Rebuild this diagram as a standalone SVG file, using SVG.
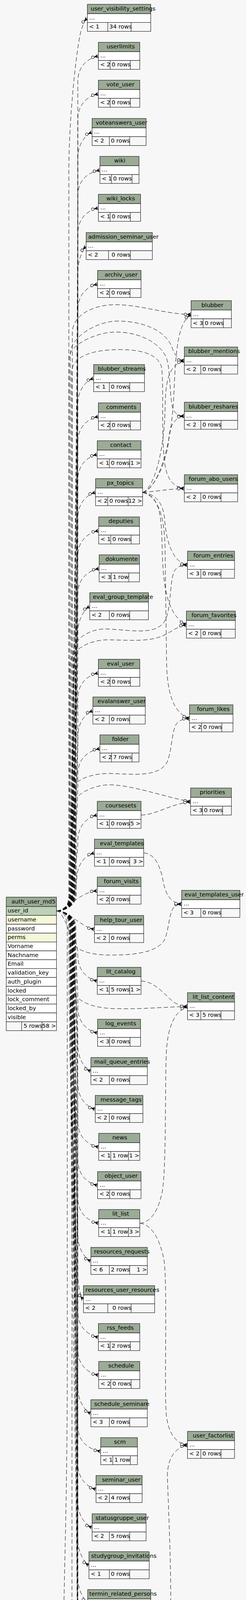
<svg xmlns="http://www.w3.org/2000/svg" width="629" height="5251" viewBox="0 0 629 5251">
<defs>
<style>
text{font-family:"DejaVu Sans",Verdana,sans-serif;font-size:14.67px;fill:#000}
.hd{fill:#9bab96;stroke:#000;stroke-width:1}
.bd{fill:#fff;stroke:#000;stroke-width:1}
.st{fill:#f7f7f7;stroke:#000;stroke-width:1}
.pk{fill:#bed1b8;stroke:#000;stroke-width:1}
.ix{fill:#f4f7da;stroke:#000;stroke-width:1}
.dv{stroke:#000;fill:none;stroke-width:1}
.r{text-anchor:end}
#connectors path{fill:none;stroke:#000;stroke-width:1;stroke-dasharray:11,6}
#connectors .cf{marker-end:url(#cr)}
#connectors .ct{marker-end:url(#tee)}
#connectors .co{marker-end:url(#od)}
</style>
<marker id="cr" markerUnits="userSpaceOnUse" viewBox="-20 -8 22 16" refX="0" refY="0" markerWidth="22" markerHeight="16" orient="auto" overflow="visible">
<circle cx="-14.5" cy="0" r="3.4" fill="#f7f7f7" stroke="#000" stroke-width="1"/>
<path d="M-11 0L0-5.5L-4 0L0 5.5Z" fill="#000"/>
<path d="M-11 0H0" stroke="#000" stroke-width="1" fill="none"/>
</marker>
<marker id="tee" markerUnits="userSpaceOnUse" viewBox="-20 -8 22 16" refX="0" refY="0" markerWidth="22" markerHeight="16" orient="auto" overflow="visible">
<path d="M-6.6 0H0" stroke="#000" stroke-width="1" fill="none"/>
<circle cx="-10" cy="0" r="3.4" fill="#f7f7f7" stroke="#000" stroke-width="1"/>
<path d="M-2.5-5V5" stroke="#000" stroke-width="2" fill="none"/>
</marker>
<marker id="od" markerUnits="userSpaceOnUse" viewBox="-20 -8 22 16" refX="0" refY="0" markerWidth="22" markerHeight="16" orient="auto" overflow="visible">
<path d="M-3 0H0" stroke="#000" stroke-width="1" fill="none"/>
<circle cx="-6.4" cy="0" r="3.4" fill="#f7f7f7" stroke="#000" stroke-width="1"/>
</marker>
</defs>
<rect x="0" y="0" width="629" height="5251" fill="#f7f7f7"/>

<g id="connectors">
<path class="cf" d="M144.4 2332C162 2332 176 2322 176 2290L176 440C176 300 196 120 207 80C211 66 216 53 223.4 46.3"/>
<path class="cf" d="M144.4 2332C162 2332 188 2322 188 2290C188 1249.3 199 1249.3 199 208.5C199 178.5 215 151.5 251.5 143.5"/>
<path class="cf" d="M144.4 2332C162 2332 192 2322 192 2290C192 1297.8 199 1297.8 199 305.5C199 275.5 215 248.5 251.5 240.5"/>
<path class="cf" d="M144.4 2332C162 2332 195 2322 195 2290C195 1346.8 199 1346.8 199 403.5C199 373.5 215 346.5 235.5 338.5"/>
<path class="cf" d="M144.4 2332C162 2332 186 2322 186 2290C186 1395.3 199 1395.3 199 500.5C199 470.5 215 443.5 255.5 435.5"/>
<path class="cf" d="M144.4 2332C162 2332 190 2322 190 2290C190 1443.8 199 1443.8 199 597.5C199 567.5 215 540.5 251.5 532.5"/>
<path class="cf" d="M144.4 2332C162 2332 193 2322 193 2290C193 1492.8 199 1492.8 199 695.5C199 665.5 212.2 638.5 220.2 630.5"/>
<path class="cf" d="M144.4 2332C162 2332 184 2322 184 2290C184 1541.3 199 1541.3 199 792.5C199 762.5 215 735.5 249.5 727.5"/>
<path class="cf" d="M144.4 2332C162 2332 189 2322 189 2290C189 1661.8 199 1661.8 199 1033.5C199 1003.5 215 976.5 239.5 968.5"/>
<path class="cf" d="M144.4 2332C162 2332 182 2322 182 2290C182 1710.8 199 1710.8 199 1131.5C199 1101.5 215 1074.5 251.5 1066.5"/>
<path class="cf" d="M144.4 2332C162 2332 191 2322 191 2290C191 1759.3 199 1759.3 199 1228.5C199 1198.5 215 1171.5 248.7 1163.5"/>
<path class="cf" d="M144.4 2332C162 2332 186 2322 186 2290C186 1807.8 199 1807.8 199 1325.5C199 1295.5 215 1268.5 244.3 1260.5"/>
<path class="cf" d="M144.4 2332C162 2332 180 2322 180 2290C180 1856.8 199 1856.8 199 1423.5C199 1393.5 215 1366.5 252.3 1358.5"/>
<path class="cf" d="M144.4 2332C162 2332 188 2322 188 2290C188 1905.3 199 1905.3 199 1520.5C199 1490.5 215 1463.5 253.5 1455.5"/>
<path class="cf" d="M144.4 2332C162 2332 183 2322 183 2290C183 1953.8 199 1953.8 199 1617.5C199 1587.5 215 1560.5 229.5 1552.5"/>
<path class="cf" d="M144.4 2332C162 2332 190 2322 190 2290C190 2039 199 2039 199 1788C199 1758 215 1731 251.5 1723"/>
<path class="cf" d="M144.4 2332C162 2332 178 2322 178 2290C178 2087.3 199 2087.3 199 1884.5C199 1854.5 215 1827.5 237.5 1819.5"/>
<path class="cf" d="M144.4 2332C162 2332 186 2322 186 2290C186 2135.8 199 2135.8 199 1981.5C199 1951.5 215 1924.5 255.5 1916.5"/>
<path class="cf" d="M144.4 2332C162 2332 181 2322 181 2290C181 2220.8 199 2220.8 199 2151.5C199 2121.5 215 2094.5 248.7 2086.5"/>
<path class="cf" d="M144.4 2332C165 2332 193 2300 196 2250C198 2215 213 2192 241.5 2183.5"/>
<path class="cf" d="M144.4 2332C175 2328 200 2285 248.7 2280.5"/>
<path class="cf" d="M144.4 2332C180 2335 205 2372 241.5 2379"/>
<path class="cf" d="M144.4 2332C162 2332 188 2342 188 2374C188 2410.3 199 2410.3 199 2446.5C199 2476.5 215 2503.5 248.7 2511.5"/>
<path class="cf" d="M144.4 2332C162 2332 192 2342 192 2374C192 2476.8 199 2476.8 199 2579.5C199 2609.5 215 2636.5 249.5 2644.5"/>
<path class="cf" d="M144.4 2332C162 2332 185 2342 185 2374C185 2525.8 199 2525.8 199 2677.5C199 2707.5 215 2734.5 232.3 2742.5"/>
<path class="cf" d="M144.4 2332C162 2332 190 2342 190 2374C190 2574.3 199 2574.3 199 2774.5C199 2804.5 215 2831.5 243.5 2839.5"/>
<path class="cf" d="M144.4 2332C162 2332 180 2342 180 2374C180 2622.8 199 2622.8 199 2871.5C199 2901.5 215 2928.5 252.3 2936.5"/>
<path class="cf" d="M144.4 2332C162 2332 194 2342 194 2374C194 2671.8 199 2671.8 199 2969.5C199 2999.5 215 3026.5 249.5 3034.5"/>
<path class="cf" d="M144.4 2332C162 2332 186 2342 186 2374C186 2720.3 199 2720.3 199 3066.5C199 3096.5 215 3123.5 252.3 3131.5"/>
<path class="cf" d="M144.4 2332C162 2332 178 2342 178 2374C178 2768.8 199 2768.8 199 3163.5C199 3193.5 215 3220.5 232.3 3228.5"/>
<path class="cf" d="M144.4 2332C162 2332 190 2342 190 2374C190 2817.8 199 2817.8 199 3261.5C199 3291.5 205.4 3318.5 213.4 3326.5"/>
<path class="cf" d="M144.4 2332C162 2332 183 2342 183 2374C183 2866.3 199 2866.3 199 3358.5C199 3388.5 215 3415.5 251.5 3423.5"/>
<path class="cf" d="M144.4 2332C162 2332 188 2342 188 2374C188 2914.8 199 2914.8 199 3455.5C199 3485.5 215 3512.5 252.3 3520.5"/>
<path class="cf" d="M144.4 2332C162 2332 176 2342 176 2374C176 2963.8 199 2963.8 199 3553.5C199 3583.5 215 3610.5 232.3 3618.5"/>
<path class="cf" d="M144.4 2332C162 2332 192 2342 192 2374C192 3012.3 199 3012.3 199 3650.5C199 3680.5 215 3707.5 257.5 3715.5"/>
<path class="cf" d="M144.4 2332C162 2332 181 2342 181 2374C181 3060.8 199 3060.8 199 3747.5C199 3777.5 215 3804.5 245.5 3812.5"/>
<path class="cf" d="M144.4 2332C162 2332 186 2342 186 2374C186 3109.8 199 3109.8 199 3845.5C199 3875.5 215 3902.5 235.5 3910.5"/>
<path class="cf" d="M144.4 2332C162 2332 179 2342 179 2374C179 3158.3 199 3158.3 199 3942.5C199 3972.5 215 3999.5 227.4 4007.5"/>
<path class="cf" d="M144.4 2332C162 2332 190 2342 190 2374C190 3206.8 199 3206.8 199 4039.5C199 4069.5 215 4096.5 224.2 4104.5"/>
<path class="cf" d="M144.4 2332C162 2332 184 2342 184 2374C184 3255.8 199 3255.8 199 4137.5C199 4167.5 215 4194.5 249.5 4202.5"/>
<path class="ct" d="M144.4 2332C162 2332 188 2342 188 2374C188 3322.3 199 3322.3 199 4270.5C199 4300.5 215 4327.5 252.3 4335.5"/>
<path class="cf" d="M144.4 2332C162 2332 182 2342 182 2374C182 3370.8 199 3370.8 199 4367.5C199 4397.5 215 4424.5 252.3 4432.5"/>
<path class="cf" d="M144.4 2332C162 2332 190 2342 190 2374C190 3419.8 199 3419.8 199 4465.5C199 4495.5 215 4522.5 236.3 4530.5"/>
<path class="cf" d="M144.4 2332C162 2332 185 2342 185 2374C185 3468.3 199 3468.3 199 4562.5C199 4592.5 215 4619.5 249.5 4627.5"/>
<path class="cf" d="M144.4 2332C162 2332 180 2342 180 2374C180 3516.8 199 3516.8 199 4659.5C199 4689.5 215 4716.5 235.5 4724.5"/>
<path class="ct" d="M144.4 2332C162 2332 188 2342 188 2374C188 3565.8 199 3565.8 199 4757.5C199 4787.5 215 4814.5 245.5 4822.5"/>
<path class="cf" d="M144.4 2332C162 2332 172 2345 172 2380L172 3500C172 3900 160 4100 160 4400L161 4800C163 4920 185 5000 195 5035C200 5048 204 5056 209.4 5058.5"/>
<path class="cf" d="M144.4 2332C162 2332 185 2322 185 2290L185 850C187 805 240 780 295 780C360 780 420 804 488.6 805"/>
<path class="cf" d="M144.4 2332C162 2332 180 2322 180 2290L180 900C185 860 250 822 300 822C380 822 428 855 440 890C448 912 458 922 471.3 923.5"/>
<path class="cf" d="M144.4 2332C162 2332 177 2322 177 2290L177 915C180 880 250 850 295 850C360 850 410 880 425 915C438 950 432 1030 445 1052C452 1062 460 1065 471.3 1065"/>
<path class="cf" d="M144.4 2332C162 2332 183 2322 183 2290L183 950C188 910 240 895 305 895C370 895 405 910 413 940C420 990 410 1150 425 1205C433 1235 450 1248 471.3 1250.5"/>
<path class="cf" d="M144.4 2332C162 2332 187 2322 187 2290L187 1670C190 1630 235 1610 270 1610C330 1612 395 1628 420 1592C440 1560 432 1485 447 1460C455 1449 465 1447 479.4 1446.3"/>
<path class="cf" d="M144.4 2332C162 2332 179 2322 179 2290L179 1700C183 1660 230 1640 270 1638C330 1638 380 1645 420 1626C440 1616 455 1603 476.6 1599.5"/>
<path class="cf" d="M144.4 2332C162 2332 184 2322 184 2290L184 2025C188 1995 235 1980 280 1980C340 1982 400 1990 425 1955C440 1930 438 1870 452 1852C460 1843 470 1840 484.6 1839.5"/>
<path class="cf" d="M144.4 2332C162 2332 182 2322 182 2290L182 2070C186 2035 235 2010 280 2009C340 2010 420 2040 487.4 2052.5"/>
<path class="cf" d="M144.4 2332C162 2333 178 2390 190 2418C200 2436 240 2445 280 2445C340 2445 395 2440 418 2410C432 2390 430 2340 445 2322C452 2316 458 2315 464.5 2314.5"/>
<path class="cf" d="M144.4 2332C162 2332 186 2342 186 2374L186 2530C190 2560 230 2580 290 2582C360 2584 420 2578 479.4 2576.5"/>
<path class="cf" d="M144.4 2332C162 2332 184 2342 184 2374L184 4215C188 4255 240 4275 300 4275C370 4275 415 4255 430 4210C445 4150 430 3850 428 3780C428 3730 450 3705 479.4 3699.5"/>
<path class="cf" d="M364.6 1260.5C400 1255 440 1150 445 1000C450 880 458 825 488.6 805"/>
<path class="cf" d="M364.6 1260.5C395 1250 420 1150 422 1050C423 970 432 935 471.3 923.5"/>
<path class="cf" d="M364.6 1260.5C395 1252 428 1180 432 1120C435 1085 450 1068 471.3 1065"/>
<path class="cf" d="M364.6 1260.5C400 1258 430 1252 471.3 1250.5"/>
<path class="cf" d="M364.6 1260.5C400 1265 418 1290 421 1330C424 1380 440 1440 479.4 1446.3"/>
<path class="cf" d="M364.6 1260.5C400 1268 412 1300 414 1380C416 1480 420 1570 476.6 1599.5"/>
<path class="cf" d="M364.6 1260.5C400 1270 420 1310 422 1400L426 1700C428 1780 445 1825 484.6 1839.5"/>
<path class="cf" d="M360.6 2086.5C400 2086 430 2060 487.4 2052.5"/>
<path class="cf" d="M367.4 2183.5C395 2185 410 2215 418 2260C425 2295 440 2312 464.5 2314.5"/>
<path class="cf" d="M360.6 2511.5C395 2512 420 2545 440 2562C452 2572 465 2576 479.4 2576.5"/>
<path class="cf" d="M357.4 3131.5C385 3130 405 3100 415 3050C425 2990 422 2800 425 2700C428 2630 445 2590 479.4 2576.5"/>
<path class="cf" d="M357.4 3131.5C385 3133 410 3170 420 3230C428 3300 420 3550 425 3620C430 3670 450 3695 479.4 3699.5"/>
<path class="co" d="M144.4 5040.8C160 5040 175 5030 176 5000C177 4960 185 4930 209.4 4922.2"/>
<path class="ct" d="M144.4 5040.8C165 5040 180 5055 188 5085C196 5120 210 5157 243.5 5159"/>
</g>

<g id="user_visibility_settings"><rect class="hd" x="223.4" y="11" width="162.1" height="24"/><text x="231.9" y="27">user_visibility_settings</text><rect class="bd" x="223.4" y="35" width="162.1" height="22.5"/><text x="228.4" y="50">...</text><rect class="st" x="223.4" y="57.5" width="162.1" height="22.8"/><path class="dv" d="M275.6 57.5V80.3M335.3 57.5V80.3"/><text x="227.8" y="73">&lt; 1</text><text x="279.6" y="73">34 rows</text></g>
<g id="userlimits"><rect class="hd" x="251.5" y="108.3" width="105.9" height="24"/><text x="272.8" y="124.3">userlimits</text><rect class="bd" x="251.5" y="132.3" width="105.9" height="22.5"/><text x="256.5" y="147.3">...</text><rect class="st" x="251.5" y="154.8" width="105.9" height="22.8"/><path class="dv" d="M281.6 154.8V177.6M333.3 154.8V177.6"/><text x="255.9" y="170.3">&lt; 2</text><text x="285.6" y="170.3">0 rows</text></g>
<g id="vote_user"><rect class="hd" x="251.5" y="205.3" width="105.9" height="24"/><text x="272" y="221.3">vote_user</text><rect class="bd" x="251.5" y="229.3" width="105.9" height="22.5"/><text x="256.5" y="244.3">...</text><rect class="st" x="251.5" y="251.8" width="105.9" height="22.8"/><path class="dv" d="M281.6 251.8V274.6M333.3 251.8V274.6"/><text x="255.9" y="267.3">&lt; 2</text><text x="285.6" y="267.3">0 rows</text></g>
<g id="voteanswers_user"><rect class="hd" x="235.5" y="303.3" width="138" height="24"/><text x="244.7" y="319.3">voteanswers_user</text><rect class="bd" x="235.5" y="327.3" width="138" height="22.5"/><text x="240.5" y="342.3">...</text><rect class="st" x="235.5" y="349.8" width="138" height="22.8"/><path class="dv" d="M279.6 349.8V372.6M331.7 349.8V372.6"/><text x="239.9" y="365.3">&lt; 2</text><text x="283.6" y="365.3">0 rows</text></g>
<g id="wiki"><rect class="hd" x="255.5" y="400.3" width="99.9" height="24"/><text x="292" y="416.3">wiki</text><rect class="bd" x="255.5" y="424.3" width="99.9" height="22.5"/><text x="260.5" y="439.3">...</text><rect class="st" x="255.5" y="446.8" width="99.9" height="22.8"/><path class="dv" d="M285.2 446.8V469.6M337.7 446.8V469.6"/><text x="259.9" y="462.3">&lt; 1</text><text x="289.2" y="462.3">0 rows</text></g>
<g id="wiki_locks"><rect class="hd" x="251.5" y="497.3" width="107.9" height="24"/><text x="272" y="513.3">wiki_locks</text><rect class="bd" x="251.5" y="521.3" width="107.9" height="22.5"/><text x="256.5" y="536.3">...</text><rect class="st" x="251.5" y="543.8" width="107.9" height="22.8"/><path class="dv" d="M281.6 543.8V566.6M333.3 543.8V566.6"/><text x="255.9" y="559.3">&lt; 1</text><text x="285.6" y="559.3">0 rows</text></g>
<g id="admission_seminar_user"><rect class="hd" x="220.2" y="595.3" width="169.3" height="24"/><text x="225.4" y="611.3">admission_seminar_user</text><rect class="bd" x="220.2" y="619.3" width="169.3" height="22.5"/><text x="225.2" y="634.3">...</text><rect class="st" x="220.2" y="641.8" width="169.3" height="22.8"/><path class="dv" d="M277.6 641.8V664.6M333.3 641.8V664.6"/><text x="224.6" y="657.3">&lt; 2</text><text x="285.2" y="657.3">0 rows</text></g>
<g id="archiv_user"><rect class="hd" x="249.5" y="692.3" width="111.1" height="24"/><text x="267.6" y="708.3">archiv_user</text><rect class="bd" x="249.5" y="716.3" width="111.1" height="22.5"/><text x="254.5" y="731.3">...</text><rect class="st" x="249.5" y="738.8" width="111.1" height="22.8"/><path class="dv" d="M280.4 738.8V761.6M332.5 738.8V761.6"/><text x="253.9" y="754.3">&lt; 2</text><text x="284.4" y="754.3">0 rows</text></g>
<g id="blubber"><rect class="hd" x="488.6" y="769.7" width="103.1" height="24"/><text x="515" y="785.7">blubber</text><rect class="bd" x="488.6" y="793.7" width="103.1" height="22.5"/><text x="493.6" y="808.7">...</text><rect class="st" x="488.6" y="816.2" width="103.1" height="22.8"/><path class="dv" d="M519.5 816.2V839M571.2 816.2V839"/><text x="493" y="831.7">&lt; 3</text><text x="523.5" y="831.7">0 rows</text></g>
<g id="blubber_mentions"><rect class="hd" x="471.3" y="888.3" width="136.4" height="24"/><text x="481.4" y="904.3">blubber_mentions</text><rect class="bd" x="471.3" y="912.3" width="136.4" height="22.5"/><text x="476.3" y="927.3">...</text><rect class="st" x="471.3" y="934.8" width="136.4" height="22.8"/><path class="dv" d="M513.5 934.8V957.6M565.2 934.8V957.6"/><text x="475.7" y="950.3">&lt; 2</text><text x="517.5" y="950.3">0 rows</text></g>
<g id="blubber_streams"><rect class="hd" x="239.5" y="933.3" width="129.9" height="24"/><text x="250.3" y="949.3">blubber_streams</text><rect class="bd" x="239.5" y="957.3" width="129.9" height="22.5"/><text x="244.5" y="972.3">...</text><rect class="st" x="239.5" y="979.8" width="129.9" height="22.8"/><path class="dv" d="M279.6 979.8V1002.6M331.7 979.8V1002.6"/><text x="243.9" y="995.3">&lt; 1</text><text x="283.6" y="995.3">0 rows</text></g>
<g id="blubber_reshares"><rect class="hd" x="471.3" y="1029.7" width="136.4" height="24"/><text x="482.2" y="1045.7">blubber_reshares</text><rect class="bd" x="471.3" y="1053.7" width="136.4" height="22.5"/><text x="476.3" y="1068.7">...</text><rect class="st" x="471.3" y="1076.2" width="136.4" height="22.8"/><path class="dv" d="M513.5 1076.2V1099M565.2 1076.2V1099"/><text x="475.7" y="1091.7">&lt; 2</text><text x="517.5" y="1091.7">0 rows</text></g>
<g id="comments"><rect class="hd" x="251.5" y="1031.3" width="107.9" height="24"/><text x="271.6" y="1047.3">comments</text><rect class="bd" x="251.5" y="1055.3" width="107.9" height="22.5"/><text x="256.5" y="1070.3">...</text><rect class="st" x="251.5" y="1077.8" width="107.9" height="22.8"/><path class="dv" d="M281.6 1077.8V1100.6M333.3 1077.8V1100.6"/><text x="255.9" y="1093.3">&lt; 2</text><text x="285.6" y="1093.3">0 rows</text></g>
<g id="contact"><rect class="hd" x="248.7" y="1128.3" width="111.9" height="24"/><text x="281.6" y="1144.3">contact</text><rect class="bd" x="248.7" y="1152.3" width="111.9" height="22.5"/><text x="253.7" y="1167.3">...</text><rect class="st" x="248.7" y="1174.8" width="111.9" height="22.8"/><path class="dv" d="M279.6 1174.8V1197.6M331.7 1174.8V1197.6"/><text x="253.1" y="1190.3">&lt; 1</text><text x="283.6" y="1190.3">0 rows</text><text class="r" x="359.6" y="1190.3">1 &gt;</text></g>
<g id="px_topics"><rect class="hd" x="244.3" y="1225.3" width="120.3" height="24"/><text x="273.2" y="1241.3">px_topics</text><rect class="bd" x="244.3" y="1249.3" width="120.3" height="22.5"/><text x="249.3" y="1264.3">...</text><rect class="st" x="244.3" y="1271.8" width="120.3" height="22.8"/><path class="dv" d="M275.6 1271.8V1294.6M327.7 1271.8V1294.6"/><text x="248.7" y="1287.3">&lt; 2</text><text x="279.6" y="1287.3">0 rows</text><text class="r" x="363.6" y="1287.3">12 &gt;</text></g>
<g id="forum_abo_users"><rect class="hd" x="471.3" y="1215.3" width="136.4" height="24"/><text x="482.6" y="1231.3">forum_abo_users</text><rect class="bd" x="471.3" y="1239.3" width="136.4" height="22.5"/><text x="476.3" y="1254.3">...</text><rect class="st" x="471.3" y="1261.8" width="136.4" height="22.8"/><path class="dv" d="M513.5 1261.8V1284.6M565.2 1261.8V1284.6"/><text x="475.7" y="1277.3">&lt; 2</text><text x="517.5" y="1277.3">0 rows</text></g>
<g id="deputies"><rect class="hd" x="252.3" y="1323.3" width="104.3" height="24"/><text x="277.6" y="1339.3">deputies</text><rect class="bd" x="252.3" y="1347.3" width="104.3" height="22.5"/><text x="257.3" y="1362.3">...</text><rect class="st" x="252.3" y="1369.8" width="104.3" height="22.8"/><path class="dv" d="M283.2 1369.8V1392.6M335.3 1369.8V1392.6"/><text x="256.7" y="1385.3">&lt; 1</text><text x="287.2" y="1385.3">0 rows</text></g>
<g id="forum_entries"><rect class="hd" x="479.4" y="1411" width="120.3" height="24"/><text x="494.6" y="1427">forum_entries</text><rect class="bd" x="479.4" y="1435" width="120.3" height="22.5"/><text x="484.4" y="1450">...</text><rect class="st" x="479.4" y="1457.5" width="120.3" height="22.8"/><path class="dv" d="M513.5 1457.5V1480.3M565.2 1457.5V1480.3"/><text x="483.8" y="1473">&lt; 3</text><text x="517.5" y="1473">0 rows</text></g>
<g id="dokumente"><rect class="hd" x="253.5" y="1420.3" width="103.1" height="24"/><text x="269.6" y="1436.3">dokumente</text><rect class="bd" x="253.5" y="1444.3" width="103.1" height="22.5"/><text x="258.5" y="1459.3">...</text><rect class="st" x="253.5" y="1466.8" width="103.1" height="22.8"/><path class="dv" d="M284.4 1466.8V1489.6M329.3 1466.8V1489.6"/><text x="257.9" y="1482.3">&lt; 3</text><text x="288.4" y="1482.3">1 row</text></g>
<g id="eval_group_template"><rect class="hd" x="229.5" y="1517.3" width="150" height="24"/><text x="237.5" y="1533.3">eval_group_template</text><rect class="bd" x="229.5" y="1541.3" width="150" height="22.5"/><text x="234.5" y="1556.3">...</text><rect class="st" x="229.5" y="1563.8" width="150" height="22.8"/><path class="dv" d="M279.6 1563.8V1586.6M331.7 1563.8V1586.6"/><text x="233.9" y="1579.3">&lt; 2</text><text x="283.6" y="1579.3">0 rows</text></g>
<g id="forum_favorites"><rect class="hd" x="476.6" y="1564.3" width="125.1" height="24"/><text x="489.4" y="1580.3">forum_favorites</text><rect class="bd" x="476.6" y="1588.3" width="125.1" height="22.5"/><text x="481.6" y="1603.3">...</text><rect class="st" x="476.6" y="1610.8" width="125.1" height="22.8"/><path class="dv" d="M513.5 1610.8V1633.6M565.2 1610.8V1633.6"/><text x="481" y="1626.3">&lt; 2</text><text x="517.5" y="1626.3">0 rows</text></g>
<g id="eval_user"><rect class="hd" x="251.5" y="1687.7" width="105.9" height="24"/><text x="273.6" y="1703.7">eval_user</text><rect class="bd" x="251.5" y="1711.7" width="105.9" height="22.5"/><text x="256.5" y="1726.7">...</text><rect class="st" x="251.5" y="1734.2" width="105.9" height="22.8"/><path class="dv" d="M281.6 1734.2V1757M333.3 1734.2V1757"/><text x="255.9" y="1749.7">&lt; 2</text><text x="285.6" y="1749.7">0 rows</text></g>
<g id="evalanswer_user"><rect class="hd" x="237.5" y="1784.3" width="133.9" height="24"/><text x="249.5" y="1800.3">evalanswer_user</text><rect class="bd" x="237.5" y="1808.3" width="133.9" height="22.5"/><text x="242.5" y="1823.3">...</text><rect class="st" x="237.5" y="1830.8" width="133.9" height="22.8"/><path class="dv" d="M279.6 1830.8V1853.6M331.7 1830.8V1853.6"/><text x="241.9" y="1846.3">&lt; 2</text><text x="283.6" y="1846.3">0 rows</text></g>
<g id="forum_likes"><rect class="hd" x="484.6" y="1804.3" width="111.1" height="24"/><text x="503.4" y="1820.3">forum_likes</text><rect class="bd" x="484.6" y="1828.3" width="111.1" height="22.5"/><text x="489.6" y="1843.3">...</text><rect class="st" x="484.6" y="1850.8" width="111.1" height="22.8"/><path class="dv" d="M515.5 1850.8V1873.6M567.2 1850.8V1873.6"/><text x="489" y="1866.3">&lt; 2</text><text x="519.5" y="1866.3">0 rows</text></g>
<g id="folder"><rect class="hd" x="255.5" y="1881.3" width="99.9" height="24"/><text x="286.4" y="1897.3">folder</text><rect class="bd" x="255.5" y="1905.3" width="99.9" height="22.5"/><text x="260.5" y="1920.3">...</text><rect class="st" x="255.5" y="1927.8" width="99.9" height="22.8"/><path class="dv" d="M285.2 1927.8V1950.6M337.7 1927.8V1950.6"/><text x="259.9" y="1943.3">&lt; 2</text><text x="289.2" y="1943.3">7 rows</text></g>
<g id="priorities"><rect class="hd" x="487.4" y="2017.3" width="104.3" height="24"/><text x="510.7" y="2033.3">priorities</text><rect class="bd" x="487.4" y="2041.3" width="104.3" height="22.5"/><text x="492.4" y="2056.3">...</text><rect class="st" x="487.4" y="2063.8" width="104.3" height="22.8"/><path class="dv" d="M517.5 2063.8V2086.6M569.2 2063.8V2086.6"/><text x="491.8" y="2079.3">&lt; 3</text><text x="521.5" y="2079.3">0 rows</text></g>
<g id="coursesets"><rect class="hd" x="248.7" y="2051.3" width="111.9" height="24"/><text x="269.6" y="2067.3">coursesets</text><rect class="bd" x="248.7" y="2075.3" width="111.9" height="22.5"/><text x="253.7" y="2090.3">...</text><rect class="st" x="248.7" y="2097.8" width="111.9" height="22.8"/><path class="dv" d="M279.6 2097.8V2120.6M331.7 2097.8V2120.6"/><text x="253.1" y="2113.3">&lt; 1</text><text x="283.6" y="2113.3">0 rows</text><text class="r" x="359.6" y="2113.3">5 &gt;</text></g>
<g id="eval_templates"><rect class="hd" x="241.5" y="2148.3" width="125.9" height="24"/><text x="255.5" y="2164.3">eval_templates</text><rect class="bd" x="241.5" y="2172.3" width="125.9" height="22.5"/><text x="246.5" y="2187.3">...</text><rect class="st" x="241.5" y="2194.8" width="125.9" height="22.8"/><path class="dv" d="M279.6 2194.8V2217.6M331.7 2194.8V2217.6"/><text x="245.9" y="2210.3">&lt; 1</text><text x="283.6" y="2210.3">0 rows</text><text class="r" x="366.4" y="2210.3">3 &gt;</text></g>
<g id="forum_visits"><rect class="hd" x="248.7" y="2245.3" width="111.9" height="24"/><text x="265.6" y="2261.3">forum_visits</text><rect class="bd" x="248.7" y="2269.3" width="111.9" height="22.5"/><text x="253.7" y="2284.3">...</text><rect class="st" x="248.7" y="2291.8" width="111.9" height="22.8"/><path class="dv" d="M279.6 2291.8V2314.6M331.7 2291.8V2314.6"/><text x="253.1" y="2307.3">&lt; 2</text><text x="283.6" y="2307.3">0 rows</text></g>
<g id="eval_templates_user"><rect class="hd" x="464.5" y="2279.3" width="148.8" height="24"/><text x="472.1" y="2295.3">eval_templates_user</text><rect class="bd" x="464.5" y="2303.3" width="148.8" height="22.5"/><text x="469.5" y="2318.3">...</text><rect class="st" x="464.5" y="2325.8" width="148.8" height="22.8"/><path class="dv" d="M513.5 2325.8V2348.6M565.2 2325.8V2348.6"/><text x="468.9" y="2341.3">&lt; 3</text><text x="517.5" y="2341.3">0 rows</text></g>
<g id="help_tour_user"><rect class="hd" x="241.5" y="2343.7" width="125.9" height="24"/><text x="255.5" y="2359.7">help_tour_user</text><rect class="bd" x="241.5" y="2367.7" width="125.9" height="22.5"/><text x="246.5" y="2382.7">...</text><rect class="st" x="241.5" y="2390.2" width="125.9" height="22.8"/><path class="dv" d="M279.6 2390.2V2413M331.7 2390.2V2413"/><text x="245.9" y="2405.7">&lt; 2</text><text x="283.6" y="2405.7">0 rows</text></g>
<g id="lit_catalog"><rect class="hd" x="248.7" y="2476.3" width="111.9" height="24"/><text x="271.2" y="2492.3">lit_catalog</text><rect class="bd" x="248.7" y="2500.3" width="111.9" height="22.5"/><text x="253.7" y="2515.3">...</text><rect class="st" x="248.7" y="2522.8" width="111.9" height="22.8"/><path class="dv" d="M279.6 2522.8V2545.6M331.7 2522.8V2545.6"/><text x="253.1" y="2538.3">&lt; 1</text><text x="283.6" y="2538.3">5 rows</text><text class="r" x="359.6" y="2538.3">1 &gt;</text></g>
<g id="lit_list_content"><rect class="hd" x="479.4" y="2541.3" width="120.3" height="24"/><text x="492.6" y="2557.3">lit_list_content</text><rect class="bd" x="479.4" y="2565.3" width="120.3" height="22.5"/><text x="484.4" y="2580.3">...</text><rect class="st" x="479.4" y="2587.8" width="120.3" height="22.8"/><path class="dv" d="M513.5 2587.8V2610.6M565.2 2587.8V2610.6"/><text x="483.8" y="2603.3">&lt; 3</text><text x="517.5" y="2603.3">5 rows</text></g>
<g id="log_events"><rect class="hd" x="249.5" y="2609.3" width="109.9" height="24"/><text x="269.2" y="2625.3">log_events</text><rect class="bd" x="249.5" y="2633.3" width="109.9" height="22.5"/><text x="254.5" y="2648.3">...</text><rect class="st" x="249.5" y="2655.8" width="109.9" height="22.8"/><path class="dv" d="M280.4 2655.8V2678.6M332.5 2655.8V2678.6"/><text x="253.9" y="2671.3">&lt; 3</text><text x="284.4" y="2671.3">0 rows</text></g>
<g id="mail_queue_entries"><rect class="hd" x="232.3" y="2707.3" width="144.4" height="24"/><text x="240.7" y="2723.3">mail_queue_entries</text><rect class="bd" x="232.3" y="2731.3" width="144.4" height="22.5"/><text x="237.3" y="2746.3">...</text><rect class="st" x="232.3" y="2753.8" width="144.4" height="22.8"/><path class="dv" d="M279.6 2753.8V2776.6M331.7 2753.8V2776.6"/><text x="236.7" y="2769.3">&lt; 2</text><text x="283.6" y="2769.3">0 rows</text></g>
<g id="message_tags"><rect class="hd" x="243.5" y="2804.3" width="121.9" height="24"/><text x="257.1" y="2820.3">message_tags</text><rect class="bd" x="243.5" y="2828.3" width="121.9" height="22.5"/><text x="248.5" y="2843.3">...</text><rect class="st" x="243.5" y="2850.8" width="121.9" height="22.8"/><path class="dv" d="M279.6 2850.8V2873.6M331.7 2850.8V2873.6"/><text x="247.9" y="2866.3">&lt; 2</text><text x="283.6" y="2866.3">0 rows</text></g>
<g id="news"><rect class="hd" x="252.3" y="2901.3" width="105.1" height="24"/><text x="287.2" y="2917.3">news</text><rect class="bd" x="252.3" y="2925.3" width="105.1" height="22.5"/><text x="257.3" y="2940.3">...</text><rect class="st" x="252.3" y="2947.8" width="105.1" height="22.8"/><path class="dv" d="M283.2 2947.8V2970.6M328.5 2947.8V2970.6"/><text x="256.7" y="2963.3">&lt; 1</text><text x="287.2" y="2963.3">1 row</text><text class="r" x="356.4" y="2963.3">1 &gt;</text></g>
<g id="object_user"><rect class="hd" x="249.5" y="2999.3" width="111.1" height="24"/><text x="267.6" y="3015.3">object_user</text><rect class="bd" x="249.5" y="3023.3" width="111.1" height="22.5"/><text x="254.5" y="3038.3">...</text><rect class="st" x="249.5" y="3045.8" width="111.1" height="22.8"/><path class="dv" d="M280.4 3045.8V3068.6M332.5 3045.8V3068.6"/><text x="253.9" y="3061.3">&lt; 2</text><text x="284.4" y="3061.3">0 rows</text></g>
<g id="lit_list"><rect class="hd" x="252.3" y="3096.3" width="105.1" height="24"/><text x="287.2" y="3112.3">lit_list</text><rect class="bd" x="252.3" y="3120.3" width="105.1" height="22.5"/><text x="257.3" y="3135.3">...</text><rect class="st" x="252.3" y="3142.8" width="105.1" height="22.8"/><path class="dv" d="M283.2 3142.8V3165.6M328.5 3142.8V3165.6"/><text x="256.7" y="3158.3">&lt; 1</text><text x="287.2" y="3158.3">1 row</text><text class="r" x="356.4" y="3158.3">3 &gt;</text></g>
<g id="resources_requests"><rect class="hd" x="232.3" y="3193.3" width="144.4" height="24"/><text x="240.7" y="3209.3">resources_requests</text><rect class="bd" x="232.3" y="3217.3" width="144.4" height="22.5"/><text x="237.3" y="3232.3">...</text><rect class="st" x="232.3" y="3239.8" width="144.4" height="22.8"/><path class="dv" d="M279.6 3239.8V3262.6M331.7 3239.8V3262.6"/><text x="236.7" y="3255.3">&lt; 6</text><text x="283.6" y="3255.3">2 rows</text><text class="r" x="375.7" y="3255.3">1 &gt;</text></g>
<g id="resources_user_resources"><rect class="hd" x="213.4" y="3291.3" width="182.1" height="24"/><text x="218.6" y="3307.3">resources_user_resources</text><rect class="bd" x="213.4" y="3315.3" width="182.1" height="22.5"/><text x="218.4" y="3330.3">...</text><rect class="st" x="213.4" y="3337.8" width="182.1" height="22.8"/><path class="dv" d="M275.6 3337.8V3360.6M335.3 3337.8V3360.6"/><text x="217.8" y="3353.3">&lt; 2</text><text x="287.6" y="3353.3">0 rows</text></g>
<g id="rss_feeds"><rect class="hd" x="251.5" y="3388.3" width="105.9" height="24"/><text x="273.2" y="3404.3">rss_feeds</text><rect class="bd" x="251.5" y="3412.3" width="105.9" height="22.5"/><text x="256.5" y="3427.3">...</text><rect class="st" x="251.5" y="3434.8" width="105.9" height="22.8"/><path class="dv" d="M281.6 3434.8V3457.6M333.3 3434.8V3457.6"/><text x="255.9" y="3450.3">&lt; 1</text><text x="285.6" y="3450.3">2 rows</text></g>
<g id="schedule"><rect class="hd" x="252.3" y="3485.3" width="105.1" height="24"/><text x="276.8" y="3501.3">schedule</text><rect class="bd" x="252.3" y="3509.3" width="105.1" height="22.5"/><text x="257.3" y="3524.3">...</text><rect class="st" x="252.3" y="3531.8" width="105.1" height="22.8"/><path class="dv" d="M283.2 3531.8V3554.6M335.3 3531.8V3554.6"/><text x="256.7" y="3547.3">&lt; 2</text><text x="287.2" y="3547.3">0 rows</text></g>
<g id="schedule_seminare"><rect class="hd" x="232.3" y="3583.3" width="144.4" height="24"/><text x="241.1" y="3599.3">schedule_seminare</text><rect class="bd" x="232.3" y="3607.3" width="144.4" height="22.5"/><text x="237.3" y="3622.3">...</text><rect class="st" x="232.3" y="3629.8" width="144.4" height="22.8"/><path class="dv" d="M279.6 3629.8V3652.6M331.7 3629.8V3652.6"/><text x="236.7" y="3645.3">&lt; 3</text><text x="283.6" y="3645.3">0 rows</text></g>
<g id="user_factorlist"><rect class="hd" x="479.4" y="3664.3" width="120.3" height="24"/><text x="493" y="3680.3">user_factorlist</text><rect class="bd" x="479.4" y="3688.3" width="120.3" height="22.5"/><text x="484.4" y="3703.3">...</text><rect class="st" x="479.4" y="3710.8" width="120.3" height="22.8"/><path class="dv" d="M513.5 3710.8V3733.6M565.2 3710.8V3733.6"/><text x="483.8" y="3726.3">&lt; 2</text><text x="517.5" y="3726.3">0 rows</text></g>
<g id="scm"><rect class="hd" x="257.5" y="3680.3" width="93.9" height="24"/><text x="291.6" y="3696.3">scm</text><rect class="bd" x="257.5" y="3704.3" width="93.9" height="22.5"/><text x="262.5" y="3719.3">...</text><rect class="st" x="257.5" y="3726.8" width="93.9" height="22.8"/><path class="dv" d="M288.4 3726.8V3749.6M333.3 3726.8V3749.6"/><text x="261.9" y="3742.3">&lt; 1</text><text x="292.4" y="3742.3">1 row</text></g>
<g id="seminar_user"><rect class="hd" x="245.5" y="3777.3" width="117.9" height="24"/><text x="260.7" y="3793.3">seminar_user</text><rect class="bd" x="245.5" y="3801.3" width="117.9" height="22.5"/><text x="250.5" y="3816.3">...</text><rect class="st" x="245.5" y="3823.8" width="117.9" height="22.8"/><path class="dv" d="M279.6 3823.8V3846.6M331.7 3823.8V3846.6"/><text x="249.9" y="3839.3">&lt; 2</text><text x="283.6" y="3839.3">4 rows</text></g>
<g id="statusgruppe_user"><rect class="hd" x="235.5" y="3875.3" width="138" height="24"/><text x="244.3" y="3891.3">statusgruppe_user</text><rect class="bd" x="235.5" y="3899.3" width="138" height="22.5"/><text x="240.5" y="3914.3">...</text><rect class="st" x="235.5" y="3921.8" width="138" height="22.8"/><path class="dv" d="M279.6 3921.8V3944.6M331.7 3921.8V3944.6"/><text x="239.9" y="3937.3">&lt; 2</text><text x="283.6" y="3937.3">5 rows</text></g>
<g id="studygroup_invitations"><rect class="hd" x="227.4" y="3972.3" width="154.1" height="24"/><text x="233.1" y="3988.3">studygroup_invitations</text><rect class="bd" x="227.4" y="3996.3" width="154.1" height="22.5"/><text x="232.4" y="4011.3">...</text><rect class="st" x="227.4" y="4018.8" width="154.1" height="22.8"/><path class="dv" d="M279.6 4018.8V4041.6M331.7 4018.8V4041.6"/><text x="231.8" y="4034.3">&lt; 1</text><text x="283.6" y="4034.3">0 rows</text></g>
<g id="termin_related_persons"><rect class="hd" x="224.2" y="4069.3" width="161.3" height="24"/><text x="228.2" y="4085.3">termin_related_persons</text><rect class="bd" x="224.2" y="4093.3" width="161.3" height="22.5"/><text x="229.2" y="4108.3">...</text><rect class="st" x="224.2" y="4115.8" width="161.3" height="22.8"/><path class="dv" d="M279.6 4115.8V4138.6M332.5 4115.8V4138.6"/><text x="228.6" y="4131.3">&lt; 1</text><text x="283.6" y="4131.3">0 rows</text></g>
<g id="user_config"><rect class="hd" x="249.5" y="4167.3" width="111.1" height="24"/><text x="266.4" y="4183.3">user_config</text><rect class="bd" x="249.5" y="4191.3" width="111.1" height="22.5"/><text x="254.5" y="4206.3">...</text><rect class="st" x="249.5" y="4213.8" width="111.1" height="22.8"/><path class="dv" d="M280.4 4213.8V4236.6M332.5 4213.8V4236.6"/><text x="253.9" y="4229.3">&lt; 1</text><text x="284.4" y="4229.3">0 rows</text></g>
<g id="user_info"><rect class="hd" x="252.3" y="4300.3" width="105.1" height="24"/><text x="274.4" y="4316.3">user_info</text><rect class="bd" x="252.3" y="4324.3" width="105.1" height="22.5"/><text x="257.3" y="4339.3">...</text><rect class="st" x="252.3" y="4346.8" width="105.1" height="22.8"/><path class="dv" d="M283.2 4346.8V4369.6M335.3 4346.8V4369.6"/><text x="256.7" y="4362.3">&lt; 1</text><text x="287.2" y="4362.3">5 rows</text></g>
<g id="user_inst"><rect class="hd" x="252.3" y="4397.3" width="105.1" height="24"/><text x="274.4" y="4413.3">user_inst</text><rect class="bd" x="252.3" y="4421.3" width="105.1" height="22.5"/><text x="257.3" y="4436.3">...</text><rect class="st" x="252.3" y="4443.8" width="105.1" height="22.8"/><path class="dv" d="M283.2 4443.8V4466.6M335.3 4443.8V4466.6"/><text x="256.7" y="4459.3">&lt; 2</text><text x="287.2" y="4459.3">4 rows</text></g>
<g id="user_studiengang"><rect class="hd" x="236.3" y="4495.3" width="136.4" height="24"/><text x="246.3" y="4511.3">user_studiengang</text><rect class="bd" x="236.3" y="4519.3" width="136.4" height="22.5"/><text x="241.3" y="4534.3">...</text><rect class="st" x="236.3" y="4541.8" width="136.4" height="22.8"/><path class="dv" d="M279.6 4541.8V4564.6M331.7 4541.8V4564.6"/><text x="240.7" y="4557.3">&lt; 3</text><text x="283.6" y="4557.3">2 rows</text></g>
<g id="user_token"><rect class="hd" x="249.5" y="4592.3" width="109.9" height="24"/><text x="267.2" y="4608.3">user_token</text><rect class="bd" x="249.5" y="4616.3" width="109.9" height="22.5"/><text x="254.5" y="4631.3">...</text><rect class="st" x="249.5" y="4638.8" width="109.9" height="22.8"/><path class="dv" d="M280.4 4638.8V4661.6M332.5 4638.8V4661.6"/><text x="253.9" y="4654.3">&lt; 1</text><text x="284.4" y="4654.3">0 rows</text></g>
<g id="user_userdomains"><rect class="hd" x="235.5" y="4689.3" width="138" height="24"/><text x="244.3" y="4705.3">user_userdomains</text><rect class="bd" x="235.5" y="4713.3" width="138" height="22.5"/><text x="240.5" y="4728.3">...</text><rect class="st" x="235.5" y="4735.8" width="138" height="22.8"/><path class="dv" d="M279.6 4735.8V4758.6M331.7 4735.8V4758.6"/><text x="239.9" y="4751.3">&lt; 2</text><text x="283.6" y="4751.3">0 rows</text></g>
<g id="user_visibility"><rect class="hd" x="245.5" y="4787.3" width="117.9" height="24"/><text x="260.3" y="4803.3">user_visibility</text><rect class="bd" x="245.5" y="4811.3" width="117.9" height="22.5"/><text x="250.5" y="4826.3">...</text><rect class="st" x="245.5" y="4833.8" width="117.9" height="22.8"/><path class="dv" d="M279.6 4833.8V4856.6M331.7 4833.8V4856.6"/><text x="249.9" y="4849.3">&lt; 1</text><text x="283.6" y="4849.3">0 rows</text></g>
<g id="aux_lock_rules"><rect class="hd" x="243.5" y="5123.7" width="121.9" height="24"/><text x="256.7" y="5139.7">aux_lock_rules</text><rect class="bd" x="243.5" y="5147.7" width="121.9" height="22.5"/><text x="248.5" y="5162.7">...</text><rect class="st" x="243.5" y="5170.2" width="121.9" height="22.8"/><path class="dv" d="M279.6 5170.2V5193M331.7 5170.2V5193"/><text x="247.9" y="5185.7">&lt; 1</text><text x="283.6" y="5185.7">0 rows</text></g>

<g id="auth_user_md5">
<rect class="hd" x="16" y="2296.7" width="128.4" height="24"/><text x="29.3" y="2312.7">auth_user_md5</text>
<rect class="pk" x="16" y="2320.7" width="128.4" height="22.7"/><text x="19.5" y="2336.2">user_id</text>
<rect class="ix" x="16" y="2343.4" width="128.4" height="22.7"/><text x="19.5" y="2358.9">username</text>
<rect class="bd" x="16" y="2366.1" width="128.4" height="22.7"/><text x="19.5" y="2381.6">password</text>
<rect class="ix" x="16" y="2388.8" width="128.4" height="22.7"/><text x="19.5" y="2404.3">perms</text>
<rect class="bd" x="16" y="2411.5" width="128.4" height="22.7"/><text x="19.5" y="2427">Vorname</text>
<rect class="bd" x="16" y="2434.2" width="128.4" height="22.7"/><text x="19.5" y="2449.7">Nachname</text>
<rect class="bd" x="16" y="2456.9" width="128.4" height="22.7"/><text x="19.5" y="2472.4">Email</text>
<rect class="bd" x="16" y="2479.6" width="128.4" height="22.7"/><text x="19.5" y="2495.1">validation_key</text>
<rect class="bd" x="16" y="2502.3" width="128.4" height="22.7"/><text x="19.5" y="2517.8">auth_plugin</text>
<rect class="bd" x="16" y="2525" width="128.4" height="22.7"/><text x="19.5" y="2540.5">locked</text>
<rect class="bd" x="16" y="2547.7" width="128.4" height="22.7"/><text x="19.5" y="2563.2">lock_comment</text>
<rect class="bd" x="16" y="2570.4" width="128.4" height="22.7"/><text x="19.5" y="2585.9">locked_by</text>
<rect class="bd" x="16" y="2593.1" width="128.4" height="22.7"/><text x="19.5" y="2608.6">visible</text>
<rect class="st" x="16" y="2615.8" width="128.4" height="22.7"/><path class="dv" d="M55.4 2615.8V2638.5M107.5 2615.8V2638.5"/>
<text x="60.2" y="2631.3">5 rows</text><text class="r" x="143.4" y="2631.3">58 &gt;</text>
</g>

<g id="lock_rules">
<rect x="209.4" y="4884.3" width="190.1" height="211.4" fill="#000"/>
<rect class="hd" x="212.6" y="4887.7" width="183.7" height="23.3"/><text x="271.2" y="4904.5">lock_rules</text>
<rect class="pk" x="212.6" y="4911" width="94.7" height="22.7"/><rect class="bd" x="307.3" y="4911" width="89" height="22.7"/>
<text x="216.2" y="4926.5">lock_id</text><text x="310.9" y="4926.5">varchar[32]</text>
<rect class="bd" x="212.6" y="4933.7" width="94.7" height="22.7"/><rect class="bd" x="307.3" y="4933.7" width="89" height="22.7"/>
<text x="216.2" y="4949.2">permission</text><text x="310.9" y="4949.2">enum[6]</text>
<rect class="bd" x="212.6" y="4956.4" width="94.7" height="22.7"/><rect class="bd" x="307.3" y="4956.4" width="89" height="22.7"/>
<text x="216.2" y="4971.9">name</text><text x="310.9" y="4971.9">varchar[255]</text>
<rect class="bd" x="212.6" y="4979.1" width="94.7" height="22.7"/><rect class="bd" x="307.3" y="4979.1" width="89" height="22.7"/>
<text x="216.2" y="4994.6">description</text><text x="310.9" y="4994.6">text[65535]</text>
<rect class="bd" x="212.6" y="5001.8" width="94.7" height="22.7"/><rect class="bd" x="307.3" y="5001.8" width="89" height="22.7"/>
<text x="216.2" y="5017.3">attributes</text><text x="310.9" y="5017.3">text[65535]</text>
<rect class="bd" x="212.6" y="5024.5" width="94.7" height="22.7"/><rect class="bd" x="307.3" y="5024.5" width="89" height="22.7"/>
<text x="216.2" y="5040">object_type</text><text x="310.9" y="5040">enum[4]</text>
<rect class="bd" x="212.6" y="5047.2" width="94.7" height="22.7"/><rect class="bd" x="307.3" y="5047.2" width="89" height="22.7"/>
<text x="216.2" y="5062.7">user_id</text><text x="310.9" y="5062.7">varchar[32]</text>
<rect class="st" x="212.6" y="5069.9" width="183.7" height="22.4"/><path class="dv" d="M255.5 5069.9V5092.3M307.3 5069.9V5092.3"/>
<text x="216.6" y="5085.4">&lt; 2</text><text x="259.6" y="5085.4">0 rows</text><text class="r" x="395" y="5085.4">0 &gt;</text>
</g>

<g id="resources_locks">
<rect class="hd" x="16" y="5005.3" width="128.4" height="24"/><text x="27.7" y="5021.3">resources_locks</text>
<rect class="pk" x="16" y="5029.3" width="128.4" height="23"/><text x="19.5" y="5044.8">lock_id</text>
<rect class="bd" x="16" y="5052.3" width="128.4" height="23"/><text x="19.5" y="5067.8">lock_begin</text>
<rect class="bd" x="16" y="5075.3" width="128.4" height="23"/><text x="19.5" y="5090.8">lock_end</text>
<rect class="bd" x="16" y="5098.3" width="128.4" height="23"/><text x="19.5" y="5113.8">type</text>
<rect class="st" x="16" y="5121.3" width="128.4" height="23"/><path class="dv" d="M55.4 5121.3V5144.3M107.5 5121.3V5144.3"/>
<text x="60.2" y="5136.8">0 rows</text><text class="r" x="143.4" y="5136.8">2 &gt;</text>
</g>

<text x="16" y="5233">Generated by SchemaSpy</text>
</svg>
